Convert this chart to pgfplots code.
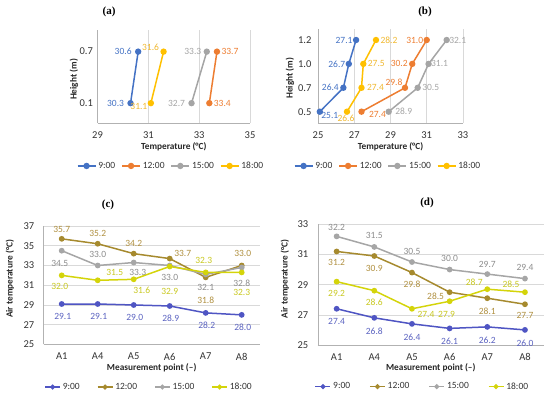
\documentclass[border=0pt]{standalone}
\usepackage{pgfplots}
\pgfplotsset{compat=1.18}
\usepackage{fontspec}
\setmainfont{Carlito}
\newfontfamily\titlefont{Liberation Serif}

\definecolor{xblue}{HTML}{4472C4}
\definecolor{xorange}{HTML}{ED7D31}
\definecolor{xgray}{HTML}{A5A5A5}
\definecolor{xgold}{HTML}{FFC000}
\definecolor{xgoldlbl}{HTML}{F0B830}
\definecolor{cblue}{HTML}{4F55C3}
\definecolor{cbrown}{HTML}{A68A2E}
\definecolor{cgray}{HTML}{A6A6A6}
\definecolor{cyellow}{HTML}{D4D40A}
\definecolor{lblue}{HTML}{5A62C0}
\definecolor{lbrown}{HTML}{B09040}
\definecolor{lgray}{HTML}{8C8C8C}
\definecolor{lyellow}{HTML}{C8C820}

\pgfplotsset{
  base/.style={
    scale only axis, anchor=south west, clip=false,
    axis lines*=left, axis line style={draw=black!30,-},
    major tick length=0pt,
    tick label style={font=\fontsize{10.5}{12}\selectfont, text=black!80},
    label style={font=\bfseries\fontsize{9.3}{11}\selectfont, text=black!85},
    /pgf/number format/assume math mode=true,
    major grid style={draw=black!15, line width=0.6pt},
    legend style={draw=none, fill=none, font=\fontsize{9.5}{11}\selectfont, text=black!80},
    legend columns=4, legend cell align=left,
  },
  lbl/.style={
    nodes near coords={\pgfmathprintnumber[fixed,fixed zerofill,precision=1]{\pgfplotspointmeta}},
    visualization depends on={\thisrow{dx} \as \dx},
    visualization depends on={\thisrow{dy} \as \dy},
    every node near coord/.append style={anchor=center, inner sep=0pt, xshift=\dx pt, yshift=\dy pt, font=\fontsize{9.5}{11}\selectfont, text=#1},
  },
  legab/.style={legend image code/.code={\draw[mark repeat=2,mark phase=2,##1] plot coordinates {(0pt,0pt) (9pt,0pt) (18pt,0pt)};}},
  legcd/.style={legend image code/.code={\draw[mark repeat=2,mark phase=2,##1,mark size=1.7pt] plot coordinates {(0pt,0pt) (7.5pt,0pt) (15pt,0pt)};}},
}

\begin{document}
\begin{tikzpicture}
\path[use as bounding box] (0pt,0pt) rectangle (550pt,395pt);

\node[font=\titlefont\bfseries\fontsize{11}{13}\selectfont] at (109pt,383pt) {(a)};
\node[font=\titlefont\bfseries\fontsize{11}{13}\selectfont] at (425pt,383pt) {(b)};
\node[font=\titlefont\bfseries\fontsize{11}{13}\selectfont] at (108pt,190pt) {(c)};
\node[font=\titlefont\bfseries\fontsize{11}{13}\selectfont] at (427pt,192pt) {(d)};

% (a)
\begin{axis}[base, legab, at={(97.5pt,272pt)}, width=152.5pt, height=93pt,
  xmin=29, xmax=35, xtick={29,31,33,35},
  ymin=0.615, ymax=2.42, ytick={1,2}, yticklabels={0.1,0.7},
  xmajorgrids, point meta=x,
  xticklabel style={yshift=-5pt}, yticklabel style={xshift=-1pt},
  xlabel={Temperature (°C)}, ylabel={Height (m)},
  xlabel style={at={(axis description cs:0.5,-0.258)}, anchor=center},
  ylabel style={at={(axis description cs:-0.154,0.468)}, anchor=center},
  legend style={at={(axis description cs:0.482,-0.462)}, anchor=center,
    /tikz/every even column/.append style={column sep=4pt}},
  every axis plot/.append style={line width=1.5pt, mark=*, mark size=2.4pt},
]
\addplot[color=xblue, lbl=xblue] table[x=x,y=y,row sep=\\]{x y dx dy\\ 30.3 1 -15 0\\ 30.6 2 -15 0\\};
\addplot[color=xorange, lbl=xorange] table[x=x,y=y,row sep=\\]{x y dx dy\\ 33.4 1 13 0\\ 33.7 2 13 0\\};
\addplot[color=xgray, lbl=xgray] table[x=x,y=y,row sep=\\]{x y dx dy\\ 32.7 1 -15 0\\ 33.3 2 -14 0\\};
\addplot[color=xgold, lbl=xgoldlbl] table[x=x,y=y,row sep=\\]{x y dx dy\\ 31.1 1 -12 -3\\ 31.6 2 -13 4\\};
\legend{9:00,12:00,15:00,18:00}
\end{axis}

% (b)
\begin{axis}[base, legab, at={(318pt,272pt)}, width=145pt, height=94pt,
  xmin=25, xmax=33, xtick={25,27,29,31,33},
  ymin=0.527, ymax=4.46, ytick={1,2,3,4}, yticklabels={0.5,0.7,1.0,1.2},
  xmajorgrids, point meta=x,
  xticklabel style={yshift=-5pt}, yticklabel style={xshift=-3pt},
  xlabel={Temperature (°C)}, ylabel={Height (m)},
  xlabel style={at={(axis description cs:0.5,-0.252)}, anchor=center},
  ylabel style={at={(axis description cs:-0.193,0.476)}, anchor=center},
  legend style={at={(axis description cs:0.483,-0.457)}, anchor=center,
    /tikz/every even column/.append style={column sep=4pt}},
  every axis plot/.append style={line width=1.5pt, mark=*, mark size=2.4pt},
]
\addplot[color=xblue, lbl=xblue] table[x=x,y=y,row sep=\\]{x y dx dy\\ 25.1 1 10 -4\\ 26.4 2 -13 0\\ 26.7 3 -12 0\\ 27.1 4 -12 0\\};
\addplot[color=xorange, lbl=xorange] table[x=x,y=y,row sep=\\]{x y dx dy\\ 27.4 1 16 -3\\ 29.8 2 -11 5\\ 30.2 3 -13 0\\ 31.0 4 -12 0\\};
\addplot[color=xgray, lbl=xgray] table[x=x,y=y,row sep=\\]{x y dx dy\\ 28.9 1 15 0\\ 30.5 2 13 0\\ 31.1 3 11 0\\ 32.1 4 11 0\\};
\addplot[color=xgold, lbl=xgoldlbl] table[x=x,y=y,row sep=\\]{x y dx dy\\ 26.6 1 -1 -7\\ 27.4 2 14 0\\ 27.5 3 13 0\\ 28.2 4 13 0\\};
\legend{9:00,12:00,15:00,18:00}
\end{axis}

% (c)
\begin{axis}[base, legcd, at={(43.7pt,50.5pt)}, width=216pt, height=118.5pt,
  xmin=0.5, xmax=6.5, xtick={1,...,6}, xticklabels={A1,A4,A5,A6,A7,A8},
  ymin=25, ymax=37, ytick={25,27,...,37},
  ymajorgrids, point meta=y,
  xticklabel style={yshift=-5pt}, yticklabel style={xshift=-6pt},
  xlabel={Measurement point (–)}, ylabel={Air temperature (°C)},
  xlabel style={at={(axis description cs:0.5,-0.196)}, anchor=center},
  ylabel style={at={(axis description cs:-0.156,0.553)}, anchor=center},
  legend style={at={(axis description cs:0.4875,-0.359)}, anchor=center,
    /tikz/every even column/.append style={column sep=15pt}},
  every axis plot/.append style={line width=1.5pt, mark=*, mark size=2.1pt},
]
\addplot[color=cblue, lbl=lblue] table[x=x,y=y,row sep=\\]{x y dx dy\\ 1 29.1 1 -12\\ 2 29.1 1 -12\\ 3 29.0 1 -12\\ 4 28.9 1 -12\\ 5 28.2 1 -12\\ 6 28.0 1 -12\\};
\addplot[color=cbrown, lbl=lbrown] table[x=x,y=y,row sep=\\]{x y dx dy\\ 1 35.7 0 9\\ 2 35.2 0 10\\ 3 34.2 0 10\\ 4 33.7 13 5\\ 5 31.8 0 -23\\ 6 33.0 1 12\\};
\addplot[color=cgray, lbl=lgray] table[x=x,y=y,row sep=\\]{x y dx dy\\ 1 34.5 -2 -13\\ 2 33.0 0 11\\ 3 33.3 4 -10\\ 4 33.0 0 -12\\ 5 32.1 0 -13\\ 6 32.8 0 -16\\};
\addplot[color=cyellow, lbl=lyellow] table[x=x,y=y,row sep=\\]{x y dx dy\\ 1 32.0 -2 -11\\ 2 31.5 17 8\\ 3 31.6 8 -11\\ 4 32.9 0 -25\\ 5 32.3 -2 12\\ 6 32.3 0 -20\\};
\legend{9:00,12:00,15:00,18:00}
\end{axis}

% (d)
\begin{axis}[base, legcd, at={(317.8pt,50pt)}, width=226pt, height=120.7pt,
  xmin=0.5, xmax=6.5, xtick={1,...,6}, xticklabels={A1,A4,A5,A6,A7,A8},
  ymin=25, ymax=33, ytick={25,27,...,33},
  ymajorgrids, point meta=y,
  xticklabel style={yshift=-5pt}, yticklabel style={xshift=-6pt},
  xlabel={Measurement point (–)}, ylabel={Air temperature (°C)},
  xlabel style={at={(axis description cs:0.5,-0.188)}, anchor=center},
  ylabel style={at={(axis description cs:-0.145,0.547)}, anchor=center},
  legend style={at={(axis description cs:0.463,-0.345)}, anchor=center,
    /tikz/every even column/.append style={column sep=17pt}},
  every axis plot/.append style={line width=1.5pt, mark=*, mark size=2.1pt},
]
\addplot[color=cblue, lbl=lblue] table[x=x,y=y,row sep=\\]{x y dx dy\\ 1 27.4 0 -13\\ 2 26.8 0 -13\\ 3 26.4 0 -13\\ 4 26.1 0 -13\\ 5 26.2 0 -13\\ 6 26.0 0 -13\\};
\addplot[color=cbrown, lbl=lbrown] table[x=x,y=y,row sep=\\]{x y dx dy\\ 1 31.2 0 -11\\ 2 30.9 0 -12\\ 3 29.8 0 -12\\ 4 28.5 -14 -4\\ 5 28.1 0 -13\\ 6 27.7 0 -11\\};
\addplot[color=cgray, lbl=lgray] table[x=x,y=y,row sep=\\]{x y dx dy\\ 1 32.2 0 9\\ 2 31.5 0 11\\ 3 30.5 0 11\\ 4 30.0 0 11\\ 5 29.7 0 10\\ 6 29.4 0 11\\};
\addplot[color=cyellow, lbl=lyellow] table[x=x,y=y,row sep=\\]{x y dx dy\\ 1 29.2 0 -12\\ 2 28.6 0 -12\\ 3 27.4 14 -6\\ 4 27.9 -3 -13\\ 5 28.7 -13 7\\ 6 28.5 -14 8\\};
\legend{9:00,12:00,15:00,18:00}
\end{axis}
\end{tikzpicture}
\end{document}
